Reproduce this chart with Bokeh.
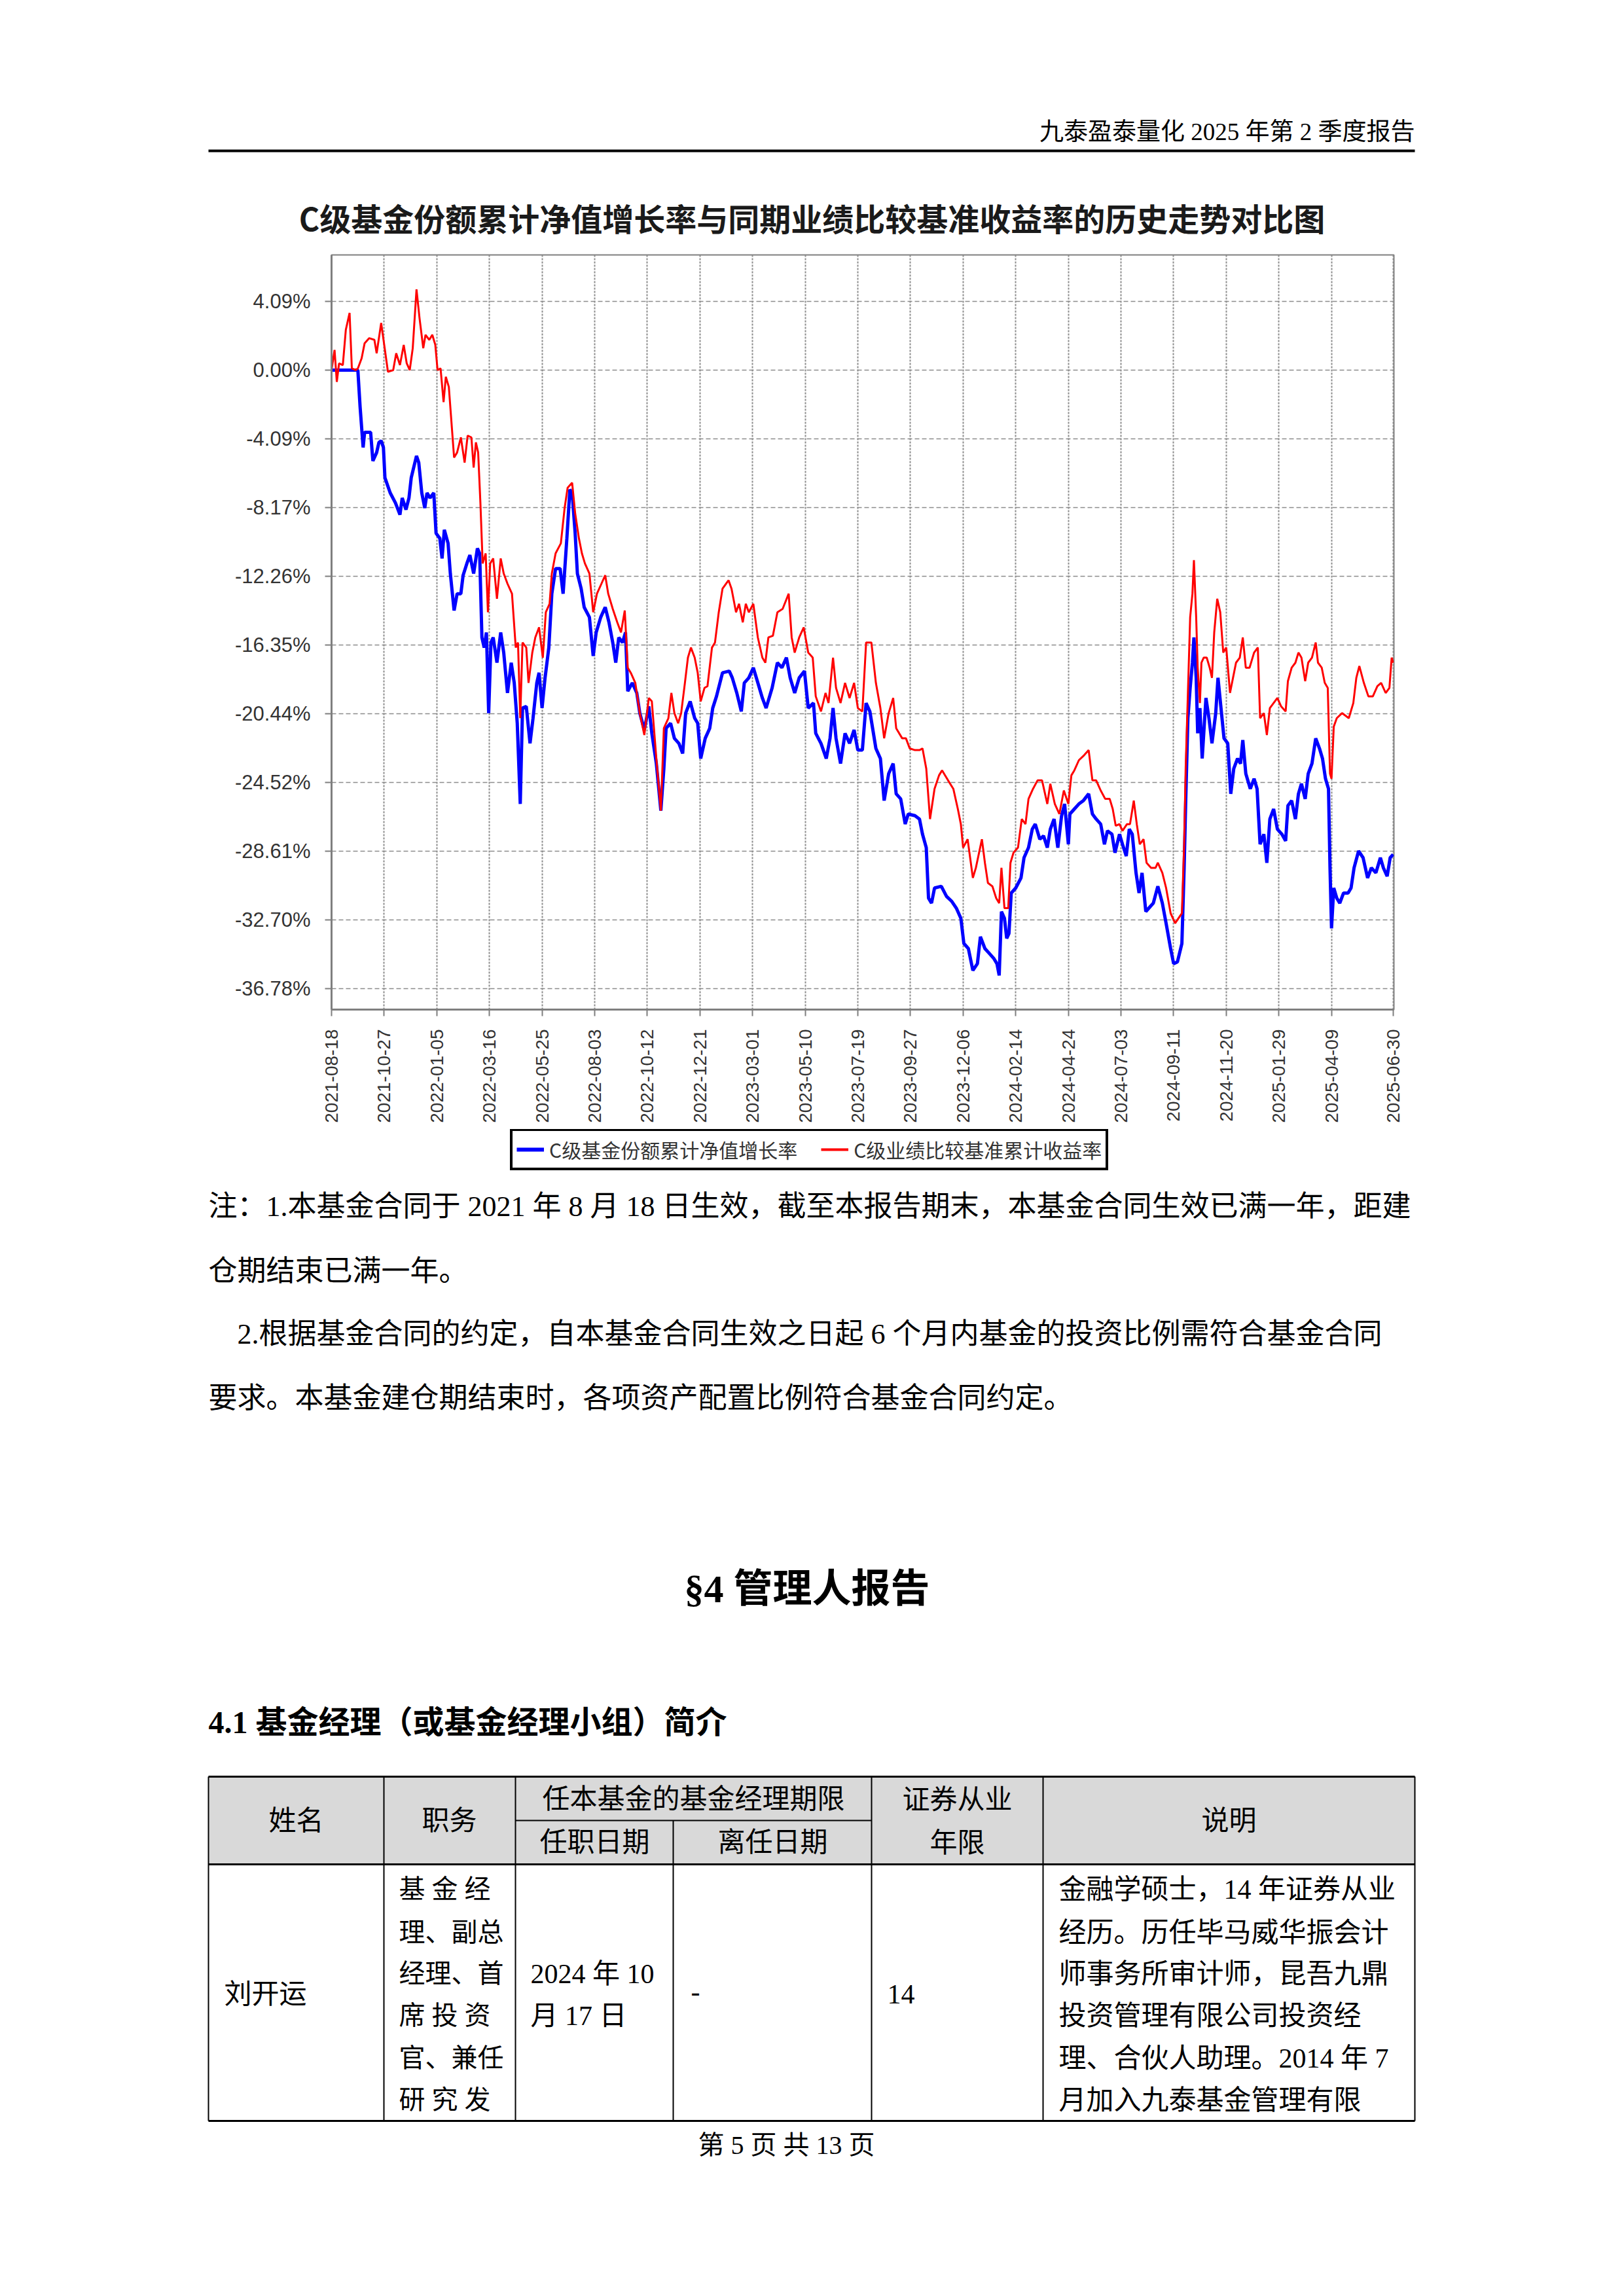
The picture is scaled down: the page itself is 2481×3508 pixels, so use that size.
import pandas as pd
from bokeh.plotting import figure
from bokeh.layouts import column
from bokeh.models import (Range1d, FixedTicker, DatetimeTickFormatter,
                          PrintfTickFormatter, Legend, LegendItem)
from bokeh.core.properties import value
from bokeh.embed import file_html
from bokeh.resources import INLINE

# ---------------- data ----------------
start_date = "2021-08-18"   # fund contract effective date (day 0)

# C-class cumulative NAV growth (%), by days since start_date
nav_days = [0, 35, 38, 42, 44, 52, 55, 60, 63, 66, 69, 71, 78, 85, 91, 94, 99, 103, 106, 113,
            116, 120, 124, 127, 131, 136, 139, 144, 147, 150, 155, 158, 163, 167, 172, 175, 180,
            184, 189, 194, 197, 200, 203, 206, 209, 212, 215, 220, 225, 229, 234, 239, 243, 247,
            251, 254, 259, 264, 268, 273, 276, 280, 284, 289, 293, 298, 304, 308, 313, 317, 320,
            324, 327, 332, 336, 343, 348, 352, 358, 364, 369, 374, 378, 382, 387, 391, 394, 400,
            406, 410, 416, 422, 426, 432, 438, 442, 445, 451, 456, 462, 467, 471, 477, 483, 487,
            491, 497, 503, 507, 512, 520, 529, 533, 539, 545, 549, 555, 561, 567, 573, 578, 586,
            593, 599, 605, 610, 616, 622, 629, 634, 641, 644, 651, 658, 663, 667, 671, 677, 683,
            689, 695, 700, 706, 711, 716, 724, 730, 735, 741, 747, 751, 757, 763, 767, 776, 782,
            786, 791, 794, 798, 802, 811, 818, 825, 831, 837, 841, 847, 853, 859, 863, 869, 875,
            881, 885, 888, 891, 895, 898, 901, 904, 910, 917, 921, 927, 932, 936, 942, 947, 952,
            956, 961, 966, 971, 975, 980, 982, 988, 994, 1000, 1007, 1012, 1017, 1023, 1028, 1032,
            1038, 1042, 1048, 1052, 1057, 1061, 1065, 1070, 1074, 1078, 1083, 1089, 1093, 1099,
            1105, 1110, 1116, 1120, 1125, 1131, 1134, 1136, 1139, 1142, 1145, 1147, 1150, 1152,
            1155, 1158, 1163, 1167, 1171, 1176, 1179, 1183, 1187, 1192, 1196, 1200, 1205, 1209,
            1212, 1216, 1222, 1227, 1231, 1235, 1240, 1244, 1248, 1253, 1258, 1264, 1269, 1272,
            1277, 1282, 1286, 1290, 1295, 1299, 1304, 1309, 1314, 1318, 1322, 1326, 1328, 1330,
            1333, 1337, 1341, 1346, 1352, 1356, 1360, 1366, 1372, 1378, 1383, 1389, 1395, 1399,
            1404, 1408, 1412]
nav_pct = [0.0, 0.0, -2.2, -4.6, -3.7, -3.7, -5.4, -4.9, -4.3, -4.2, -4.6, -6.4, -7.3, -7.9, -8.6,
           -7.6, -8.3, -7.6, -6.4, -5.1, -5.5, -7.3, -8.2, -7.3, -7.6, -7.3, -9.7, -10.0, -11.2,
           -9.5, -10.3, -12.1, -14.3, -13.3, -13.3, -12.2, -11.5, -11.0, -12.1, -10.6, -10.9,
           -15.9, -16.5, -15.6, -20.4, -16.2, -15.9, -17.4, -15.6, -16.8, -19.2, -17.4, -18.6,
           -21.0, -25.8, -20.1, -20.0, -22.2, -20.7, -18.6, -18.0, -20.1, -18.3, -16.5, -13.3,
           -11.8, -11.8, -13.3, -10.0, -7.1, -7.3, -9.7, -12.1, -13.0, -14.1, -14.7, -17.0, -15.6,
           -14.7, -14.1, -15.0, -16.2, -17.4, -15.9, -16.2, -15.6, -19.1, -18.6, -19.2, -20.4,
           -21.4, -20.0, -21.6, -23.4, -26.2, -23.7, -21.3, -21.0, -21.9, -22.2, -22.8, -20.4,
           -19.7, -20.7, -21.0, -23.1, -21.9, -21.3, -20.1, -19.4, -18.0, -17.9, -18.3, -19.2,
           -20.3, -18.6, -18.3, -17.7, -18.6, -19.5, -20.1, -18.9, -17.4, -17.7, -17.1, -18.3,
           -19.2, -18.3, -17.9, -20.1, -19.8, -21.6, -22.2, -23.1, -21.9, -20.1, -21.9, -23.4,
           -21.6, -22.2, -21.4, -22.6, -22.6, -19.8, -20.3, -22.5, -23.1, -25.6, -24.0, -23.4,
           -25.2, -25.5, -27.0, -26.4, -26.5, -26.7, -27.6, -28.4, -31.4, -31.7, -30.8, -30.7,
           -31.3, -31.6, -32.0, -32.6, -34.1, -34.4, -35.7, -35.3, -33.7, -34.4, -34.7, -35.0,
           -35.3, -36.0, -32.2, -32.6, -33.8, -33.5, -31.1, -30.8, -30.2, -29.0, -28.4, -27.3,
           -27.0, -27.9, -27.7, -28.4, -27.3, -26.7, -28.4, -26.5, -25.8, -28.2, -26.4, -26.1,
           -25.8, -25.6, -25.2, -26.4, -26.7, -27.0, -28.2, -27.4, -27.6, -28.7, -27.6, -28.2,
           -28.9, -27.3, -27.6, -29.9, -31.1, -29.9, -32.2, -31.9, -31.7, -30.7, -31.7, -32.9,
           -34.4, -35.3, -35.2, -34.1, -29.6, -25.8, -20.7, -18.9, -17.4, -15.9, -18.3, -21.6,
           -20.1, -23.1, -19.5, -20.7, -22.2, -20.4, -18.3, -20.1, -21.9, -22.2, -25.2, -23.7,
           -23.1, -23.4, -22.0, -24.0, -24.9, -24.3, -24.9, -28.2, -27.6, -29.3, -26.7, -26.1,
           -27.3, -27.6, -28.0, -25.9, -25.6, -26.7, -25.2, -24.6, -25.5, -24.0, -23.4, -21.9,
           -22.5, -23.1, -24.3, -24.9, -29.6, -33.2, -30.8, -31.4, -31.7, -31.1, -31.1, -30.8,
           -29.6, -28.6, -29.0, -30.2, -29.6, -29.9, -29.0, -29.6, -30.1, -29.0, -28.8]

# benchmark cumulative return (%), by days since start_date
bench_days = [0, 4, 7, 10, 15, 19, 24, 27, 32, 35, 40, 44, 50, 57, 60, 66, 71, 75, 82, 86, 91, 96,
              100, 104, 108, 113, 117, 122, 125, 130, 134, 138, 141, 145, 149, 152, 156, 163, 167,
              172, 177, 181, 186, 189, 192, 195, 198, 201, 205, 208, 211, 215, 220, 225, 229, 234,
              240, 245, 248, 251, 254, 259, 262, 267, 271, 276, 281, 285, 290, 293, 298, 305, 310,
              314, 320, 324, 329, 333, 337, 343, 348, 353, 359, 364, 368, 374, 380, 385, 390, 394,
              398, 404, 410, 416, 422, 426, 432, 438, 442, 448, 452, 456, 461, 465, 470, 474, 478,
              483, 487, 491, 496, 500, 506, 510, 515, 520, 528, 532, 538, 542, 547, 551, 555, 561,
              567, 573, 577, 581, 587, 593, 600, 608, 612, 616, 622, 628, 634, 640, 644, 651, 657,
              661, 667, 671, 677, 683, 689, 695, 700, 706, 711, 718, 724, 730, 735, 741, 747, 751,
              759, 764, 769, 776, 782, 786, 791, 796, 802, 808, 812, 820, 827, 833, 837, 840, 846,
              853, 857, 865, 869, 873, 879, 884, 888, 891, 895, 900, 903, 907, 913, 918, 923, 927,
              933, 939, 945, 952, 956, 962, 968, 974, 980, 984, 988, 994, 1001, 1007, 1012, 1017,
              1023, 1029, 1035, 1039, 1043, 1048, 1052, 1058, 1062, 1067, 1071, 1075, 1080, 1084,
              1090, 1096, 1099, 1105, 1110, 1116, 1122, 1128, 1131, 1134, 1136, 1139, 1142, 1145,
              1147, 1150, 1152, 1155, 1157, 1160, 1164, 1168, 1171, 1174, 1178, 1182, 1186, 1190,
              1195, 1199, 1203, 1208, 1212, 1216, 1221, 1227, 1232, 1235, 1240, 1244, 1248, 1253,
              1258, 1263, 1269, 1272, 1277, 1282, 1286, 1290, 1295, 1299, 1304, 1309, 1312, 1317,
              1321, 1325, 1328, 1330, 1333, 1337, 1344, 1353, 1359, 1363, 1367, 1373, 1379, 1385,
              1391, 1396, 1402, 1407, 1410, 1412]
bench_pct = [0.0, 1.2, -0.7, 0.4, 0.3, 2.4, 3.4, 0.1, 0.0, 0.1, 0.7, 1.6, 1.9, 1.8, 1.0, 2.8, 1.2,
             -0.1, 0.0, 1.0, 0.3, 1.5, 0.4, 0.0, 1.3, 4.8, 3.1, 1.3, 2.1, 1.8, 2.1, 1.5, 0.0, 0.1,
             -1.9, -0.4, -1.0, -5.2, -4.9, -4.0, -5.5, -3.9, -4.0, -5.8, -4.3, -4.9, -7.9, -11.5,
             -10.9, -14.4, -11.5, -11.2, -13.6, -11.2, -12.1, -12.7, -13.3, -16.5, -16.2, -20.7,
             -16.2, -16.5, -18.6, -16.8, -15.9, -15.3, -17.1, -14.4, -13.9, -12.1, -10.9, -10.3,
             -8.2, -7.0, -6.7, -8.5, -10.0, -10.9, -11.5, -12.1, -14.4, -13.3, -12.7, -12.2, -13.3,
             -14.2, -15.0, -15.6, -14.3, -17.7, -18.0, -18.6, -20.4, -21.7, -19.5, -19.7, -23.1,
             -26.2, -21.3, -20.7, -19.2, -20.4, -21.0, -20.4, -18.6, -17.1, -16.5, -17.1, -18.0,
             -19.7, -18.9, -18.8, -16.5, -16.2, -14.4, -13.0, -12.5, -13.0, -14.4, -13.9, -15.0,
             -13.9, -14.4, -13.9, -15.9, -17.1, -17.4, -15.9, -15.8, -14.4, -14.2, -13.3, -15.9,
             -16.8, -15.9, -15.3, -16.8, -17.1, -19.4, -20.3, -19.2, -19.8, -17.1, -18.9, -19.8,
             -18.6, -19.5, -18.6, -20.1, -20.3, -16.2, -16.2, -18.6, -20.1, -21.9, -20.4, -19.5,
             -21.3, -21.9, -21.9, -22.5, -22.6, -22.6, -22.5, -23.7, -26.7, -24.9, -24.1, -23.8,
             -24.4, -24.9, -26.1, -27.0, -28.4, -27.9, -30.2, -29.6, -27.9, -29.3, -30.5, -30.7,
             -31.4, -31.7, -29.6, -32.0, -32.0, -29.3, -28.7, -28.4, -26.7, -27.0, -25.5, -24.9,
             -24.4, -24.4, -25.8, -24.6, -25.8, -26.4, -25.0, -25.8, -24.1, -23.8, -23.2, -22.9,
             -22.6, -24.4, -24.4, -25.0, -25.5, -25.5, -26.1, -27.1, -27.0, -27.4, -27.0, -27.0,
             -25.6, -27.0, -28.2, -27.9, -29.3, -29.6, -29.6, -29.3, -29.9, -30.8, -32.3, -32.9,
             -32.5, -32.3, -28.2, -23.7, -19.2, -14.7, -13.3, -11.3, -14.7, -17.7, -19.8, -17.4,
             -17.1, -17.1, -17.7, -18.3, -15.6, -13.6, -14.4, -16.8, -16.5, -19.2, -18.3, -17.4,
             -17.1, -15.9, -17.7, -17.7, -16.8, -16.5, -20.7, -20.4, -21.7, -20.1, -19.8, -19.5,
             -20.0, -20.3, -18.5, -17.7, -17.4, -16.8, -17.1, -18.5, -17.4, -17.1, -16.2, -17.4,
             -17.7, -18.6, -18.9, -24.0, -24.3, -21.2, -20.7, -20.4, -20.7, -19.8, -18.3, -17.6,
             -18.6, -19.4, -19.4, -18.8, -18.6, -19.2, -18.9, -17.1, -17.4]

series_names = ["C级基金份额累计净值增长率", "C级业绩比较基准累计收益率"]
series_colors = ["#0000ff", "#ff0000"]
series_widths = [5, 3]
x_tick_labels = ["2021-08-18", "2021-10-27", "2022-01-05", "2022-03-16", "2022-05-25",
                 "2022-08-03", "2022-10-12", "2022-12-21", "2023-03-01", "2023-05-10",
                 "2023-07-19", "2023-09-27", "2023-12-06", "2024-02-14", "2024-04-24",
                 "2024-07-03", "2024-09-11", "2024-11-20", "2025-01-29", "2025-04-09",
                 "2025-06-30"]
y_tick_values = [4.09, 0.00, -4.09, -8.17, -12.26, -16.35, -20.44, -24.52, -28.61, -32.70, -36.78]

header_text = "九泰盈泰量化 2025 年第 2 季度报告"
chart_title = "C级基金份额累计净值增长率与同期业绩比较基准收益率的历史走势对比图"
note_lines = ["注：1.本基金合同于 2021 年 8 月 18 日生效，截至本报告期末，本基金合同生效已满一年，距建",
              "仓期结束已满一年。",
              "2.根据基金合同的约定，自本基金合同生效之日起 6 个月内基金的投资比例需符合基金合同",
              "要求。本基金建仓期结束时，各项资产配置比例符合基金合同约定。"]
section_title = "§4  管理人报告"
sub_title = "4.1  基金经理（或基金经理小组）简介"
footer_text = "第 5 页 共 13 页"

# ---------------- fonts ----------------
SERIF = "'Liberation Serif', 'Noto Sans CJK SC'"
CJK = "'Noto Sans CJK SC'"
LATIN = "'Liberation Sans'"

W = 2465
CHART_TOP, CHART_BOTTOM, PAGE_BOTTOM = 379, 1725, 3500


def blank(y_top, y_bottom):
    f = figure(width=W, height=y_bottom - y_top, x_range=Range1d(0, W),
               y_range=Range1d(y_bottom, y_top),
               output_backend="svg", toolbar_location=None, min_border=0,
               x_axis_location=None, y_axis_location=None, outline_line_color=None,
               frame_align=False)
    f.grid.visible = False
    return f


# ---------------- header ----------------
top = blank(0, CHART_TOP)
top.text(x=[2161], y=[201], text=[header_text], text_align="right", text_baseline="middle",
         text_font=value(SERIF), text_font_size="37px", text_color="black")
top.segment(x0=[318], y0=[230], x1=[2161], y1=[230], line_width=4, line_color="black")
top.text(x=[1240], y=[331], text=[chart_title], text_align="center", text_baseline="middle",
         text_font=value(CJK), text_font_style="bold", text_font_size="48px", text_color="#1a1a1a")

# ---------------- chart ----------------
t0 = pd.Timestamp(start_date)
nav_x = t0 + pd.to_timedelta(nav_days, unit="D")
bench_x = t0 + pd.to_timedelta(bench_days, unit="D")
tick_x = [pd.Timestamp(s).value / 1e6 for s in x_tick_labels]

p = figure(width=W, height=CHART_BOTTOM - CHART_TOP, x_axis_type="datetime",
           x_range=Range1d(t0, t0 + pd.Timedelta(days=1413)),
           y_range=Range1d(-38.03, 6.85),
           output_backend="svg", toolbar_location=None, frame_align=False,
           min_border_left=506, min_border_right=W - 2129, min_border_top=389 - CHART_TOP,
           min_border_bottom=CHART_BOTTOM - 1542)
p.outline_line_color = "#7f7f7f"
p.outline_line_width = 2
p.background_fill_color = "white"

p.xaxis.ticker = FixedTicker(ticks=tick_x)
fmt = "%Y-%m-%d"
p.xaxis.formatter = DatetimeTickFormatter(microseconds=fmt, milliseconds=fmt, seconds=fmt,
                                          minsec=fmt, minutes=fmt, hourmin=fmt, hours=fmt,
                                          days=fmt, months=fmt, years=fmt)
p.xaxis.major_label_orientation = 3.14159265 / 2
p.yaxis.ticker = FixedTicker(ticks=y_tick_values)
p.yaxis.formatter = PrintfTickFormatter(format="%.2f%%")
for ax in (p.xaxis, p.yaxis):
    ax.axis_line_color = "#7f7f7f"
    ax.axis_line_width = 3
    ax.major_tick_line_color = "#7f7f7f"
    ax.major_tick_line_width = 2
    ax.major_tick_out = 10
    ax.major_tick_in = 0
    ax.minor_tick_line_color = None
    ax.major_label_text_font = LATIN
    ax.major_label_text_color = "#333333"
p.yaxis.major_label_text_font_size = "31px"
p.xaxis.major_label_text_font_size = "28px"
p.yaxis.major_label_standoff = 22
p.xaxis.major_label_standoff = 20

p.xgrid.grid_line_color = "#8c8c8c"
p.xgrid.grid_line_dash = "3 2"
p.xgrid.grid_line_width = 2
p.ygrid.grid_line_color = "#8c8c8c"
p.ygrid.grid_line_dash = "7 4"
p.ygrid.grid_line_width = 1.5

p.line(nav_x, nav_pct, line_color=series_colors[0], line_width=series_widths[0])
p.line(bench_x, bench_pct, line_color=series_colors[1], line_width=series_widths[1])

# ---------------- lower page ----------------
bot = blank(CHART_BOTTOM, PAGE_BOTTOM)

# legend of the chart (sits just under the date labels); key renderers hold no visible points
nan = float("nan")
key_nav = bot.line(x=[nan], y=[nan], line_color=series_colors[0], line_width=series_widths[0] + 1)
key_bench = bot.line(x=[nan], y=[nan], line_color=series_colors[1], line_width=series_widths[1] + 1)
legend = Legend(items=[LegendItem(label=series_names[0], renderers=[key_nav]),
                       LegendItem(label=series_names[1], renderers=[key_bench])],
                location=(779, PAGE_BOTTOM - 1788), orientation="horizontal")
legend.label_text_font = CJK
legend.label_text_font_size = "30px"
legend.label_text_color = "#333333"
legend.glyph_width = 42
legend.label_standoff = 8
legend.spacing = 36
legend.padding = 6
legend.margin = 0
legend.border_line_color = "black"
legend.border_line_alpha = 1.0
legend.border_line_width = 4
legend.background_fill_alpha = 1.0
bot.add_layout(legend)

note_x = [318, 318, 362, 318]
note_y = [1843, 1942, 2038, 2136]
bot.text(x=note_x, y=note_y, text=note_lines, text_align="left", text_baseline="middle",
         text_font=value(SERIF), text_font_size="44px", text_color="black")
bot.text(x=[1240], y=[2427], text=[section_title], text_align="center", text_baseline="middle",
         text_font=value(SERIF), text_font_style="bold", text_font_size="60px", text_color="black")
bot.text(x=[318], y=[2631], text=[sub_title], text_align="left", text_baseline="middle",
         text_font=value(SERIF), text_font_style="bold", text_font_size="48px", text_color="black")

# table
L, R, T, HB, B = 318, 2161, 2714, 2848, 3240
cols = [318, 586, 787, 1028, 1331, 1593, 2161]
bot.quad(left=[L], right=[R], top=[T], bottom=[HB], fill_color="#d9d9d9", line_color=None)
bot.segment(x0=[L, L, L], y0=[T, HB, B], x1=[R, R, R], y1=[T, HB, B], line_color="black", line_width=3)
bot.segment(x0=[cols[2]], y0=[2781], x1=[cols[4]], y1=[2781], line_color="black", line_width=2)
bot.segment(x0=[cols[0], cols[1], cols[2], cols[4], cols[5], cols[6], cols[3]],
            y0=[T, T, T, T, T, T, 2781],
            x1=[cols[0], cols[1], cols[2], cols[4], cols[5], cols[6], cols[3]],
            y1=[B, B, B, B, B, B, B], line_color="black", line_width=2)

head_text = ["姓名", "职务", "任本基金的基金经理期限", "任职日期", "离任日期", "证券从业", "年限", "说明"]
head_x = [452, 686, 1059, 908, 1180, 1462, 1462, 1877]
head_y = [2781, 2781, 2748, 2814, 2814, 2749, 2815, 2781]
bot.text(x=head_x, y=head_y, text=head_text, text_align="center", text_baseline="middle",
         text_font=value(SERIF), text_font_size="42px", text_color="black")

row_y = [2886, 2952, 3015, 3079, 3144, 3208]
duty_lines = ["基 金 经", "理、副总", "经理、首", "席 投 资", "官、兼任", "研 究 发"]
desc_lines = ["金融学硕士，14 年证券从业", "经历。历任毕马威华振会计", "师事务所审计师，昆吾九鼎",
              "投资管理有限公司投资经", "理、合伙人助理。2014 年 7", "月加入九泰基金管理有限"]
bot.text(x=[609] * 6, y=row_y, text=duty_lines, text_align="left", text_baseline="middle",
         text_font=value(SERIF), text_font_size="40px", text_color="black")
bot.text(x=[1617] * 6, y=row_y, text=desc_lines, text_align="left", text_baseline="middle",
         text_font=value(SERIF), text_font_size="42px", text_color="black")
cell_text = ["刘开运", "2024 年 10", "月 17 日", "-", "14"]
cell_x = [342, 810, 810, 1055, 1355]
cell_y = [3046, 3015, 3079, 3042, 3046]
bot.text(x=cell_x, y=cell_y, text=cell_text, text_align="left", text_baseline="middle",
         text_font=value(SERIF), text_font_size="42px", text_color="black")

bot.text(x=[1201], y=[3277], text=[footer_text], text_align="center", text_baseline="middle",
         text_font=value(SERIF), text_font_size="40px", text_color="black")

page = column(top, p, bot, spacing=0)
open("out.html", "w").write(file_html(page, INLINE))
